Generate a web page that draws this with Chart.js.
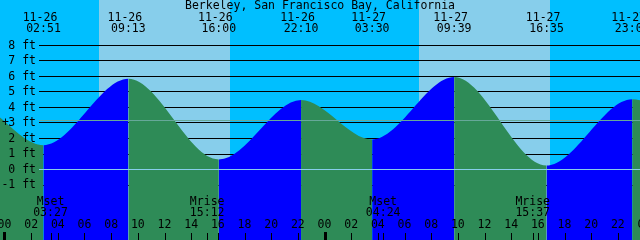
<!DOCTYPE html>
<html>
<head>
<meta charset="utf-8">
<script src="https://cdn.jsdelivr.net/npm/chart.js@4/dist/chart.umd.min.js"></script>
<style>
  html, body { margin: 0; padding: 0; background: #00BFFF; }
  #wrap { width: 640px; height: 240px; }
</style>
</head>
<body>
<div id="wrap"><canvas id="tide" width="640" height="240"></canvas></div>
<script>
const title = 'Berkeley, San Francisco Bay, California';

// tide extremes; the first two and last two lie outside the visible window
const tideDates = ['11-25', '11-25', '11-26', '11-26', '11-26', '11-26', '11-27', '11-27', '11-27', '11-27', '11-28', '11-28'];
const tideTimes = ['15:00', '21:18', '02:51', '09:13', '16:00', '22:10', '03:30', '09:39', '16:35', '23:00', '04:30', '10:30'];
const tideFeet  = [0.9, 4.4, 1.57, 5.85, 0.65, 4.49, 1.94, 5.97, 0.26, 4.54, 2.2, 6.0];

// daylight
const sunDates    = ['11-26', '11-27'];
const sunriseTimes = ['07:01', '07:01'];
const sunsetTimes  = ['16:50', '16:50'];

// moon events
const moonNames = ['Mset', 'Mrise', 'Mset', 'Mrise'];
const moonDates = ['11-26', '11-26', '11-27', '11-27'];
const moonTimes = ['03:27', '15:12', '04:24', '15:37'];

const hourLabels = ['00', '02', '04', '06', '08', '10', '12', '14', '16', '18', '20', '22',
                    '00', '02', '04', '06', '08', '10', '12', '14', '16', '18', '20', '22', '00'];
const feetTicks = [-1, 0, 1, 2, 3, 4, 5, 6, 7, 8];
const mslFeet = 3.16;

const FONT = '11.5px "DejaVu Sans Mono", monospace';

function hoursOf(date, time) {
  const day = +date.split('-')[1] - 26;
  const [h, m] = time.split(':').map(Number);
  return day * 24 + h + m / 60;
}

const tidePoints = tideDates.map((d, i) => ({ x: hoursOf(d, tideTimes[i]), y: tideFeet[i] }));

const decor = {
  id: 'decor',
  beforeDatasetsDraw(chart) {
    const { ctx, chartArea: a, scales: { x, y } } = chart;
    ctx.save();
    ctx.fillStyle = '#00BFFF';
    ctx.fillRect(a.left, a.top, a.width, a.height);
    ctx.fillStyle = '#87CEEB';
    sunDates.forEach((d, i) => {
      const x0 = Math.round(x.getPixelForValue(hoursOf(d, sunriseTimes[i])));
      const x1 = Math.round(x.getPixelForValue(hoursOf(d, sunsetTimes[i])));
      ctx.fillRect(x0, a.top, x1 - x0, a.height);
    });
    ctx.fillStyle = '#000';
    feetTicks.forEach(v => {
      ctx.fillRect(39, Math.floor(y.getPixelForValue(v)), a.right - 39, 1);
    });
    ctx.restore();
  },
  afterDatasetsDraw(chart) {
    const { ctx, chartArea: a, scales: { x, y } } = chart;
    ctx.save();
    // mean sea level and datum lines
    ctx.fillStyle = '#66A899';
    ctx.fillRect(39, Math.floor(y.getPixelForValue(mslFeet)), a.right - 39, 1);
    ctx.fillStyle = '#87CEEB';
    ctx.fillRect(39, Math.floor(y.getPixelForValue(0)), a.right - 39, 1);

    ctx.font = FONT;
    ctx.fillStyle = '#000';
    ctx.textBaseline = 'middle';

    ctx.textAlign = 'center';
    ctx.fillText(title, 320, 6.5);

    // extremes along the top
    tidePoints.forEach((p, i) => {
      const px = x.getPixelForValue(p.x);
      if (px < -30 || px > a.right + 30) return;
      ctx.fillText(tideDates[i], px - 3.5, 18);
      ctx.fillText(tideTimes[i], px, 29.5);
    });

    // feet labels
    ctx.textAlign = 'right';
    feetTicks.forEach(v => {
      ctx.fillText(v + ' ft', 36, y.getPixelForValue(v) + 0.5);
    });
    ctx.textAlign = 'center';
    ctx.fillText('+', 5.5, 123.5);

    // moon events
    moonNames.forEach((n, i) => {
      const px = x.getPixelForValue(hoursOf(moonDates[i], moonTimes[i]));
      ctx.fillText(n, px - 1, 202.5);
      ctx.fillText(moonTimes[i], px - 1, 213.5);
      ctx.fillRect(Math.round(px) - 1, 233, 1, 7);
    });

    // hour labels and ticks
    hourLabels.forEach((lab, i) => {
      const h = i * 2;
      const px = x.getPixelForValue(h);
      ctx.fillText(lab, px - 1, 225.5);
      if (h % 24 === 0) ctx.fillRect(Math.round(px) - 2, 232, 3, 8);
      else ctx.fillRect(Math.round(px) - 1, 233, 1, 7);
    });
    ctx.restore();
  }
};

new Chart(document.getElementById('tide'), {
  type: 'line',
  data: {
    datasets: [{
      data: tidePoints,
      borderColor: 'rgba(0,0,0,0)',
      pointRadius: 0,
      fill: 'start',
      cubicInterpolationMode: 'monotone',
      backgroundColor: '#2E8B57',
      segment: {
        backgroundColor: c => c.p1.parsed.y > c.p0.parsed.y ? '#0000FF' : '#2E8B57'
      }
    }]
  },
  options: {
    responsive: false,
    animation: false,
    events: [],
    layout: { padding: 0 },
    plugins: { legend: { display: false }, tooltip: { enabled: false } },
    scales: {
      x: { type: 'linear', display: false, bounds: 'data', min: -0.4125, max: 47.5875 },
      y: { type: 'linear', display: false, bounds: 'data', min: -4.548, max: 10.935 }
    }
  },
  plugins: [decor]
});
</script>
</body>
</html>
